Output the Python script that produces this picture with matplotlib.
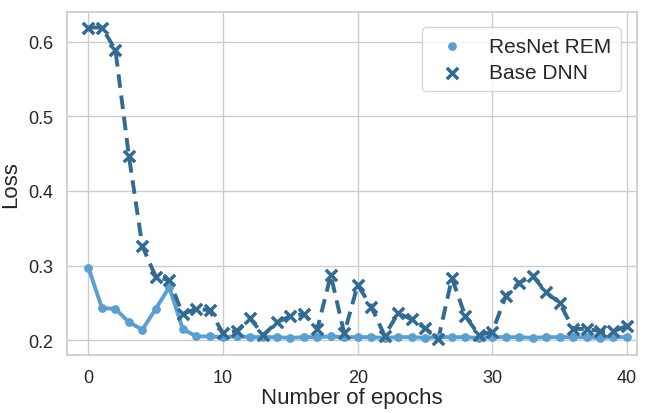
import matplotlib
matplotlib.use("Agg")
import matplotlib.pyplot as plt
import seaborn as sns

epochs = list(range(41))

resnet_rem = [0.297, 0.243, 0.242, 0.224, 0.214, 0.242, 0.271, 0.215, 0.205, 0.205,
              0.204, 0.205, 0.204, 0.204, 0.204, 0.203, 0.204, 0.204, 0.205, 0.204,
              0.204, 0.204, 0.203, 0.204, 0.204, 0.203, 0.204, 0.204, 0.204, 0.203,
              0.204, 0.204, 0.204, 0.203, 0.204, 0.204, 0.204, 0.204, 0.203, 0.204,
              0.204]

base_dnn = [0.619, 0.619, 0.589, 0.447, 0.326, 0.285, 0.280, 0.235, 0.242, 0.240,
            0.209, 0.212, 0.229, 0.207, 0.224, 0.232, 0.235, 0.215, 0.287, 0.209,
            0.274, 0.245, 0.206, 0.236, 0.228, 0.216, 0.202, 0.283, 0.232, 0.207,
            0.211, 0.259, 0.277, 0.286, 0.264, 0.250, 0.215, 0.215, 0.212, 0.212,
            0.219]

light_blue = "#5b9fd0"
dark_blue = "#326a92"

sns.set_theme(style="whitegrid")
plt.rcParams['font.family'] = ['Liberation Sans', 'DejaVu Sans']

fig = plt.figure(figsize=(6.5, 4.14), dpi=100)
ax = fig.add_axes([0.103, 0.14, 0.877, 0.829])

# lines first, then markers on top (legend shows only markers)
ax.plot(epochs, resnet_rem, color=light_blue, linewidth=2.8, zorder=2)
ax.scatter(epochs, resnet_rem, color=light_blue, marker='o', s=28, zorder=3, label="ResNet REM")
ax.plot(epochs, base_dnn, color=dark_blue, linewidth=2.8, linestyle=(0, (3.5, 2)), zorder=2)
ax.scatter(epochs, base_dnn, color=dark_blue, marker='x', s=66, linewidths=2.5, zorder=3, label="Base DNN")

ax.set_xlim(-1.6, 40.75)
ax.set_ylim(0.18, 0.64)
ax.set_xticks([0, 10, 20, 30, 40])
ax.set_yticks([0.2, 0.3, 0.4, 0.5, 0.6])
ax.tick_params(labelsize=13, pad=4)
ax.set_xlabel("Number of epochs", fontsize=16, labelpad=1)
ax.set_ylabel("Loss", fontsize=16, labelpad=5)

ax.legend(loc="upper right", fontsize=15, frameon=True, borderpad=0.45,
          labelspacing=0.35, handletextpad=0.8, bbox_to_anchor=(0.99, 0.985))

fig.savefig("out.png", dpi=100)
